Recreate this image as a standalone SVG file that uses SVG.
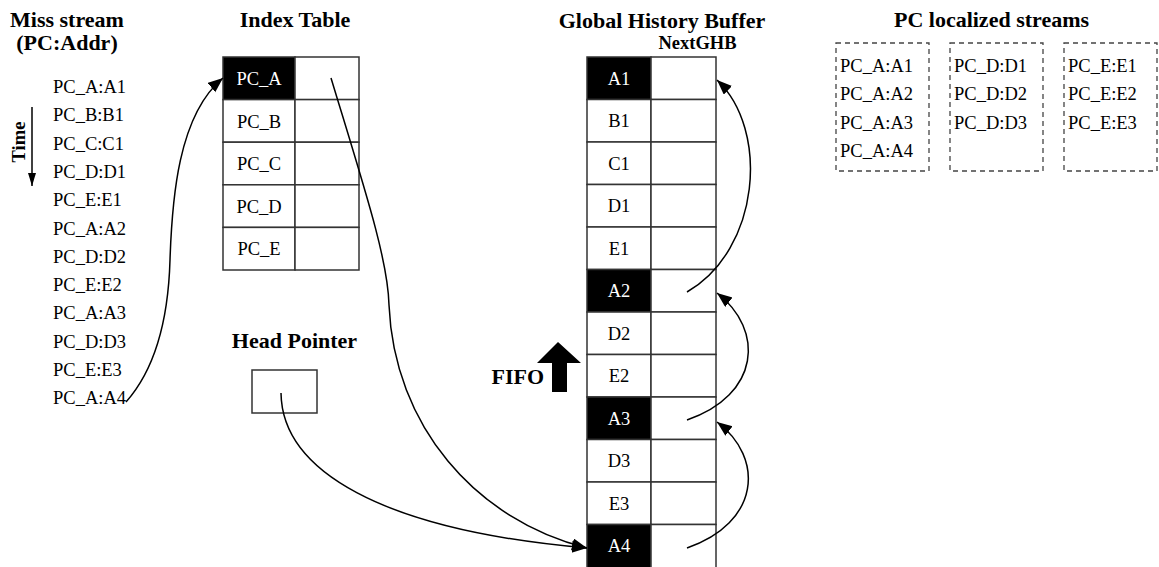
<svg xmlns="http://www.w3.org/2000/svg" width="1159" height="567" viewBox="0 0 1159 567">
<style>
text{font-family:"Liberation Serif","Times New Roman",serif;fill:#000}
.t{font-size:22px;font-weight:bold;text-anchor:middle}
.s{font-size:18.5px}
.c{font-size:18.5px;text-anchor:middle}
.w{fill:#fff}
.cell{fill:#fff;stroke:#333;stroke-width:1.5}
.blk{fill:#000;stroke:#333;stroke-width:1.5}
.dash{fill:none;stroke:#444;stroke-width:1.3;stroke-dasharray:5,4}
.con{fill:none;stroke:#000;stroke-width:1.5}
</style>
<defs>
<marker id="ah" markerUnits="userSpaceOnUse" markerWidth="16" markerHeight="14" refX="15" refY="6" orient="auto">
<path d="M0,0 L15,6 L0,12 Z" fill="#000"/>
</marker>
<marker id="ahs" markerUnits="userSpaceOnUse" markerWidth="14" markerHeight="10" refX="13" refY="4" orient="auto">
<path d="M0,0 L13,4 L0,8 Z" fill="#000"/>
</marker>
</defs>

<g id="miss-stream">
<text class="t" x="67" y="27">Miss stream</text>
<text class="t" x="67" y="50">(PC:Addr)</text>
<text class="s" x="53" y="93">PC_A:A1</text>
<text class="s" x="53" y="121.3">PC_B:B1</text>
<text class="s" x="53" y="149.6">PC_C:C1</text>
<text class="s" x="53" y="177.9">PC_D:D1</text>
<text class="s" x="53" y="206.2">PC_E:E1</text>
<text class="s" x="53" y="234.5">PC_A:A2</text>
<text class="s" x="53" y="262.8">PC_D:D2</text>
<text class="s" x="53" y="291.1">PC_E:E2</text>
<text class="s" x="53" y="319.4">PC_A:A3</text>
<text class="s" x="53" y="347.7">PC_D:D3</text>
<text class="s" x="53" y="376">PC_E:E3</text>
<text class="s" x="53" y="404.3">PC_A:A4</text>
</g>

<g id="time">
<text transform="translate(25,142) rotate(-90)" style="font-size:18.5px;font-weight:bold;text-anchor:middle">Time</text>
<line x1="32" y1="107" x2="32" y2="186" stroke="#000" stroke-width="1.5" marker-end="url(#ahs)"/>
</g>

<g id="index-table">
<text class="t" x="295" y="27">Index Table</text>
<rect class="blk" x="223" y="57" width="72" height="42.6"/>
<rect class="cell" x="295" y="57" width="64" height="42.6"/>
<rect class="cell" x="223" y="99.6" width="72" height="42.6"/>
<rect class="cell" x="295" y="99.6" width="64" height="42.6"/>
<rect class="cell" x="223" y="142.2" width="72" height="42.6"/>
<rect class="cell" x="295" y="142.2" width="64" height="42.6"/>
<rect class="cell" x="223" y="184.8" width="72" height="42.6"/>
<rect class="cell" x="295" y="184.8" width="64" height="42.6"/>
<rect class="cell" x="223" y="227.4" width="72" height="42.6"/>
<rect class="cell" x="295" y="227.4" width="64" height="42.6"/>
<text class="c w" x="259" y="85">PC_A</text>
<text class="c" x="259" y="127.6">PC_B</text>
<text class="c" x="259" y="170.2">PC_C</text>
<text class="c" x="259" y="212.8">PC_D</text>
<text class="c" x="259" y="255.4">PC_E</text>
</g>

<g id="head-pointer">
<text class="t" x="294.5" y="348">Head Pointer</text>
<rect class="cell" x="252" y="370" width="65" height="43"/>
</g>

<g id="ghb">
<text class="t" x="662" y="28">Global History Buffer</text>
<text x="697.5" y="49" style="font-size:18.5px;font-weight:bold;text-anchor:middle">NextGHB</text>
<rect class="blk" x="587" y="57" width="64" height="42.5"/>
<rect class="cell" x="651" y="57" width="65" height="42.5"/>
<rect class="cell" x="587" y="99.5" width="64" height="42.5"/>
<rect class="cell" x="651" y="99.5" width="65" height="42.5"/>
<rect class="cell" x="587" y="142" width="64" height="42.5"/>
<rect class="cell" x="651" y="142" width="65" height="42.5"/>
<rect class="cell" x="587" y="184.5" width="64" height="42.5"/>
<rect class="cell" x="651" y="184.5" width="65" height="42.5"/>
<rect class="cell" x="587" y="227" width="64" height="42.5"/>
<rect class="cell" x="651" y="227" width="65" height="42.5"/>
<rect class="blk" x="587" y="269.5" width="64" height="42.5"/>
<rect class="cell" x="651" y="269.5" width="65" height="42.5"/>
<rect class="cell" x="587" y="312" width="64" height="42.5"/>
<rect class="cell" x="651" y="312" width="65" height="42.5"/>
<rect class="cell" x="587" y="354.5" width="64" height="42.5"/>
<rect class="cell" x="651" y="354.5" width="65" height="42.5"/>
<rect class="blk" x="587" y="397" width="64" height="42.5"/>
<rect class="cell" x="651" y="397" width="65" height="42.5"/>
<rect class="cell" x="587" y="439.5" width="64" height="42.5"/>
<rect class="cell" x="651" y="439.5" width="65" height="42.5"/>
<rect class="cell" x="587" y="482" width="64" height="42.5"/>
<rect class="cell" x="651" y="482" width="65" height="42.5"/>
<rect class="blk" x="587" y="524.5" width="64" height="50"/>
<rect class="cell" x="651" y="524.5" width="65" height="50"/>
<text class="c w" x="619" y="84.8">A1</text>
<text class="c" x="619" y="127.3">B1</text>
<text class="c" x="619" y="169.8">C1</text>
<text class="c" x="619" y="212.3">D1</text>
<text class="c" x="619" y="254.8">E1</text>
<text class="c w" x="619" y="297.3">A2</text>
<text class="c" x="619" y="339.8">D2</text>
<text class="c" x="619" y="382.3">E2</text>
<text class="c w" x="619" y="424.8">A3</text>
<text class="c" x="619" y="467.3">D3</text>
<text class="c" x="619" y="509.8">E3</text>
<text class="c w" x="619" y="552.3">A4</text>
</g>

<g id="fifo">
<text x="544" y="384" style="font-size:22px;font-weight:bold;text-anchor:end">FIFO</text>
<path d="M558,342 L581,363 L567,363 L567,392 L552,392 L552,363 L537,363 Z" fill="#000"/>
</g>

<g id="pc-localized-streams">
<text class="t" x="991.5" y="27">PC localized streams</text>
<rect class="dash" x="836" y="43" width="93" height="128"/>
<rect class="dash" x="950" y="43" width="93" height="128"/>
<rect class="dash" x="1064" y="43" width="93" height="128"/>
<text class="s" x="840" y="72">PC_A:A1</text>
<text class="s" x="840" y="100.3">PC_A:A2</text>
<text class="s" x="840" y="128.6">PC_A:A3</text>
<text class="s" x="840" y="156.9">PC_A:A4</text>
<text class="s" x="954" y="72">PC_D:D1</text>
<text class="s" x="954" y="100.3">PC_D:D2</text>
<text class="s" x="954" y="128.6">PC_D:D3</text>
<text class="s" x="1068" y="72">PC_E:E1</text>
<text class="s" x="1068" y="100.3">PC_E:E2</text>
<text class="s" x="1068" y="128.6">PC_E:E3</text>
</g>

<g id="connectors">
<path class="con" d="M126,402 C150,375 168,330 170,260 C172,200 178,115 223,78" marker-end="url(#ah)"/>
<path class="con" d="M331,78 C365,190 388,260 389,305 C394,425 475,520 587,548" marker-end="url(#ah)"/>
<path class="con" d="M281,393 C282,470 380,530 587,548" marker-end="url(#ah)"/>
<path class="con" d="M687,292 C760,250 770,130 717,80" marker-end="url(#ah)"/>
<path class="con" d="M687,420 C760,395 765,330 717,293" marker-end="url(#ah)"/>
<path class="con" d="M687,548 C760,523 765,458 717,422" marker-end="url(#ah)"/>
</g>
</svg>
